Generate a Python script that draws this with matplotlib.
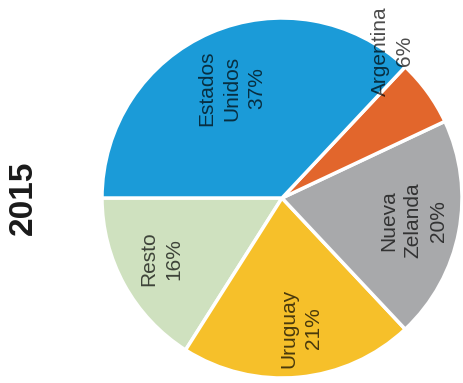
import numpy as np
import matplotlib
matplotlib.use("Agg")
import matplotlib.pyplot as plt

# Data (counterclockwise from the left)
labels = ["Resto", "Uruguay", "Nueva\nZelanda", "Argentina", "Estados\nUnidos"]
shares = [16, 21, 20, 6, 37]
colors = ["#cfe1bf", "#f6c02a", "#a8a9ab", "#e2662c", "#1b9bd8"]
title = "2015"

# label placement (radius, angle shift in degrees)
label_r = [0.75, 0.73, 0.74, 1.02, 0.67]
label_shift = [-2, 3, 1, 17, 1]

plt.rcParams['font.family'] = ['Liberation Sans', 'DejaVu Sans']

fig = plt.figure(figsize=(4.63, 3.83), dpi=100)
W, H = 463, 383
cx, cy, R = 282, 198, 180
ax = fig.add_axes([(cx - R) / W, (H - cy - R) / H, 2 * R / W, 2 * R / H])

wedges, _ = ax.pie(shares, colors=colors, startangle=180, counterclock=True,
                   wedgeprops=dict(edgecolor='white', linewidth=2.5))

for w, lab, val, r, s in zip(wedges, labels, shares, label_r, label_shift):
    mid = np.deg2rad((w.theta1 + w.theta2) / 2 + s)
    ax.text(r * np.cos(mid), r * np.sin(mid), f"{lab}\n{val}%",
            rotation=90, ha='center', va='center', multialignment='center',
            fontsize=15, color='black', alpha=0.7, linespacing=1.4)

ax.set_xlim(-1, 1)
ax.set_ylim(-1, 1)
ax.set_aspect('equal')
ax.axis('off')

fig.text(23 / W, 1 - 198 / H, title, rotation=90, ha='center', va='center',
         fontsize=24, fontweight='bold', color='#1a1a1a')

fig.savefig("out.png", dpi=100)
